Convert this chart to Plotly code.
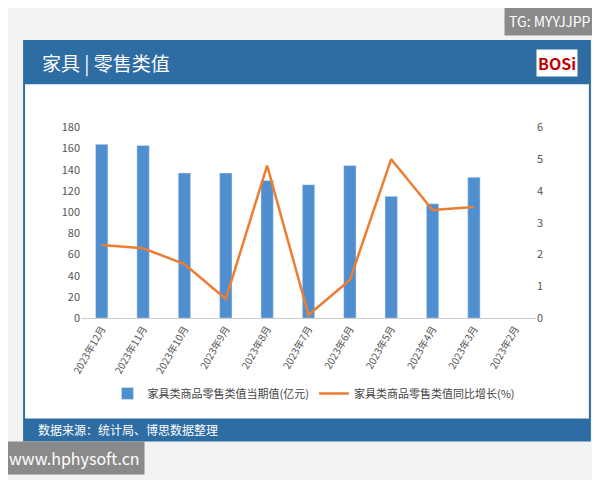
import plotly.graph_objects as go

months = ["2023年12月", "2023年11月", "2023年10月", "2023年9月", "2023年8月", "2023年7月",
          "2023年6月", "2023年5月", "2023年4月", "2023年3月", "2023年2月"]
retail_value = [164, 163, 137, 137, 130, 126, 144, 115, 108, 133, None]
yoy_growth = [2.3, 2.2, 1.7, 0.6, 4.8, 0.1, 1.2, 5.0, 3.4, 3.5, None]

blue = "#2e6ca4"


# the snapshot shows the page slightly offset and shrunk, so correct for it
def px(x):
    return (x - 18) / 0.963 / 600


def py(y):
    return 1 - (y - 18) / 0.963 / 480


fig = go.Figure()
fig.add_bar(x=months, y=retail_value, name="家具类商品零售类值当期值(亿元)",
            marker_color="#4f8fd0", width=0.3)
fig.add_scatter(x=months, y=yoy_growth, name="家具类商品零售类值同比增长(%)", yaxis="y2",
                mode="lines", line=dict(color="#ed7d31", width=2.5))

fig.update_layout(
    width=600, height=480, paper_bgcolor="#f2f2f2", plot_bgcolor="white",
    margin=dict(l=0, r=0, t=0, b=0), showlegend=True,
    font=dict(family="Noto Sans CJK SC", size=11, color="#555"),
    xaxis=dict(domain=[px(78), px(525)], tickangle=-60, tickfont=dict(size=10),
               showline=True, linecolor="#ccc"),
    yaxis=dict(domain=[py(318), py(128)], range=[0, 180], dtick=20, showgrid=False),
    yaxis2=dict(overlaying="y", side="right", range=[0, 6], dtick=1, showgrid=False),
    legend=dict(orientation="h", x=0.5, xanchor="center", y=py(393), yanchor="middle",
                font=dict(size=11, color="#444"), bgcolor="rgba(0,0,0,0)"),
    shapes=[
        dict(type="rect", xref="paper", yref="paper", x0=px(22), x1=px(578), y0=py(440),
             y1=py(42), fillcolor="white", line=dict(color=blue, width=2), layer="below"),
        dict(type="rect", xref="paper", yref="paper", x0=px(22), x1=px(578), y0=py(85),
             y1=py(42), fillcolor=blue, line=dict(width=0), layer="below"),
        dict(type="rect", xref="paper", yref="paper", x0=px(22), x1=px(578), y0=py(440),
             y1=py(418), fillcolor=blue, line=dict(width=0), layer="below"),
    ],
    annotations=[
        dict(text="家具 | 零售类值", x=px(38), y=py(64), xref="paper", yref="paper",
             xanchor="left", yanchor="middle", showarrow=False,
             font=dict(size=19, color="white")),
        dict(text="<b>BOSi</b>", x=px(566), y=py(64), xref="paper", yref="paper",
             xanchor="right", yanchor="middle", showarrow=False,
             font=dict(size=16, color="#c00000"), bgcolor="white"),
        dict(text="数据来源：统计局、博思数据整理", x=px(34), y=py(429), xref="paper",
             yref="paper", xanchor="left", yanchor="middle", showarrow=False,
             font=dict(size=12, color="white")),
        dict(text="TG: MYYJJPP", x=px(584), y=py(22), xref="paper", yref="paper",
             xanchor="right", yanchor="middle", showarrow=False,
             font=dict(size=14, color="white"), bgcolor="#8a8a8a", borderpad=4),
        dict(text="www.hphysoft.cn", x=px(2), y=py(457), xref="paper", yref="paper",
             xanchor="left", yanchor="middle", showarrow=False,
             font=dict(size=16, color="white"), bgcolor="#8a8a8a", borderpad=4),
    ],
)

fig.write_html("out.html")
